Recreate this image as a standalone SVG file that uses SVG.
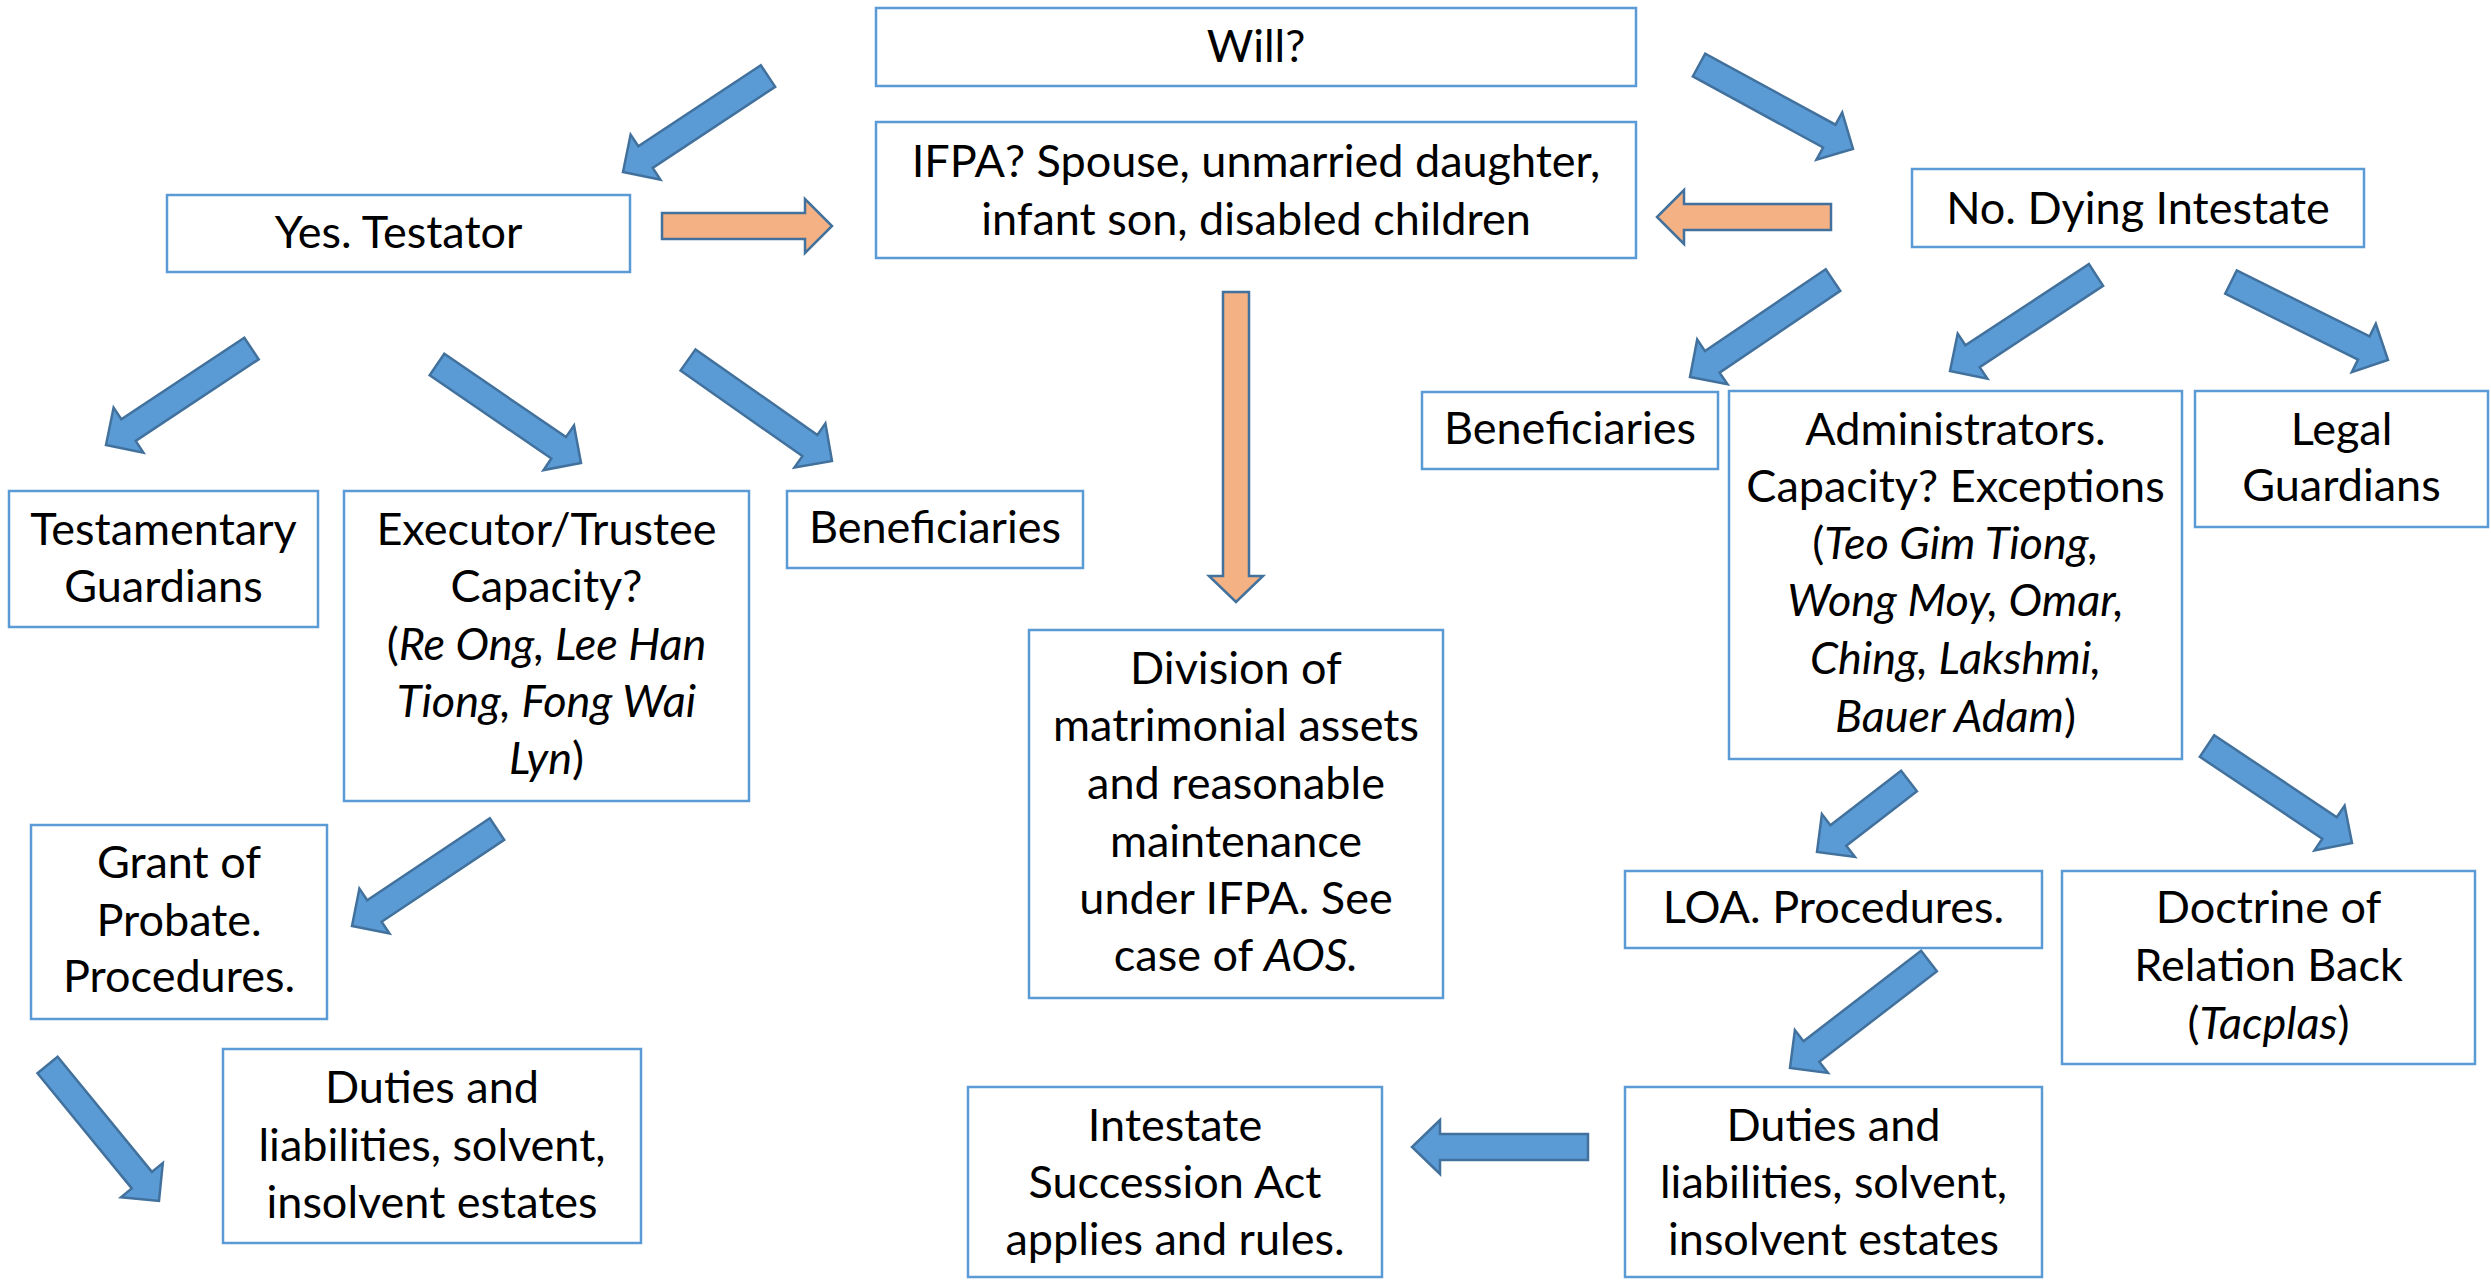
<svg xmlns="http://www.w3.org/2000/svg" width="2491" height="1281" viewBox="0 0 2491 1281">
<style>
.box{fill:#ffffff;stroke:#5B9BD5;stroke-width:2.5}
.arr{fill:#5B9BD5;stroke:#41719C;stroke-width:2.5;stroke-linejoin:miter}
.oarr{fill:#F4B183;stroke:#41719C;stroke-width:2.5;stroke-linejoin:miter}
text{font-family:Lato,"Open Sans","Liberation Sans",sans-serif;font-size:45px;text-anchor:middle;fill:#000000}
.i{font-style:italic}
</style>
<rect width="2491" height="1281" fill="#ffffff"/>
<g id="connectors">
<polygon class="arr" points="760.8,65.2 638.3,146.3 630.6,134.6 623,172 660.4,179.6 652.7,167.9 775.2,86.8"/>
<polygon class="arr" points="1692.8,76.4 1823.1,147.5 1816.4,159.8 1853,149 1842.2,112.4 1835.5,124.7 1705.2,53.6"/>
<polygon class="arr" points="244.3,337.7 121.3,419.3 113.6,407.6 106,445 143.4,452.6 135.7,440.9 258.7,359.3"/>
<polygon class="arr" points="429.7,375.2 551.4,458.5 543.5,470.1 581,463 574.0,425.5 566.0,437.1 444.3,353.8"/>
<polygon class="arr" points="680.5,370.6 802.4,456.1 794.4,467.6 832,461 825.4,423.4 817.4,434.9 695.5,349.4"/>
<polygon class="arr" points="1825.7,269.2 1705.0,351.1 1697.2,339.5 1690,377 1727.5,384.2 1719.6,372.6 1840.3,290.8"/>
<polygon class="arr" points="2088.9,264.1 1965.4,345.3 1957.7,333.6 1950,371 1987.4,378.7 1979.7,367.1 2103.1,285.9"/>
<polygon class="arr" points="2225.2,293.6 2358.0,359.6 2351.8,372.2 2388,360 2375.8,323.8 2369.6,336.4 2236.8,270.4"/>
<polygon class="arr" points="489.8,818.2 367.2,900.2 359.4,888.6 352,926 389.4,933.4 381.6,921.8 504.2,839.8"/>
<polygon class="arr" points="37.5,1073.2 131.8,1188.4 121.0,1197.2 159,1201 162.8,1163.0 151.9,1171.9 57.6,1056.8"/>
<polygon class="arr" points="1901.1,770.7 1830.4,825.2 1821.9,814.1 1817,852 1854.9,856.9 1846.3,845.8 1916.9,791.3"/>
<polygon class="arr" points="2199.8,756.8 2322.3,838.8 2314.5,850.4 2352,843 2344.6,805.6 2336.8,817.2 2214.2,735.2"/>
<polygon class="arr" points="1921.1,950.7 1803.5,1041.2 1794.9,1030.1 1790,1068 1827.9,1072.9 1819.3,1061.8 1936.9,971.3"/>
<polygon class="arr" points="1588,1134 1440,1134 1440,1120 1412,1147 1440,1174 1440,1160 1588,1160"/>
<polygon class="oarr" points="662,213 805,213 805,199 832,226 805,253 805,239 662,239"/>
<polygon class="oarr" points="1831,204 1684,204 1684,190 1657,217 1684,244 1684,230 1831,230"/>
<polygon class="oarr" points="1223,292 1249,292 1249,576 1263,576 1236,602 1209,576 1223,576"/>
</g>
<g id="will"><rect class="box" x="876" y="8" width="760" height="78"/><text x="1256" y="62">Will?</text></g>
<g id="ifpa"><rect class="box" x="876" y="122" width="760" height="136"/><text x="1256" y="177">IFPA? Spouse, unmarried daughter,</text><text x="1256" y="235">infant son, disabled children</text></g>
<g id="testator"><rect class="box" x="167" y="195" width="463" height="77"/><text x="398.5" y="248">Yes. Testator</text></g>
<g id="intestate"><rect class="box" x="1912" y="169" width="452" height="78"/><text x="2138" y="224">No. Dying Intestate</text></g>
<g id="testamentary-guardians"><rect class="box" x="9" y="491" width="309" height="136"/><text x="163.5" y="545">Testamentary</text><text x="163.5" y="602">Guardians</text></g>
<g id="executor"><rect class="box" x="344" y="491" width="405" height="310"/><text x="546.5" y="545">Executor/Trustee</text><text x="546.5" y="602">Capacity?</text><text x="546.5" y="660">(<tspan class="i">Re Ong, Lee Han</tspan></text><text x="546.5" y="717" class="i">Tiong, Fong Wai</text><text x="546.5" y="774"><tspan class="i">Lyn</tspan>)</text></g>
<g id="beneficiaries-left"><rect class="box" x="787" y="491" width="296" height="77"/><text x="935" y="543">Beneficiaries</text></g>
<g id="division"><rect class="box" x="1029" y="630" width="414" height="368"/><text x="1236" y="684">Division of</text><text x="1236" y="741">matrimonial assets</text><text x="1236" y="799">and reasonable</text><text x="1236" y="857">maintenance</text><text x="1236" y="914">under IFPA. See</text><text x="1236" y="971">case of <tspan class="i">AOS.</tspan></text></g>
<g id="grant-of-probate"><rect class="box" x="31" y="825" width="296" height="194"/><text x="179" y="878">Grant of</text><text x="179" y="936">Probate.</text><text x="179" y="992">Procedures.</text></g>
<g id="duties-left"><rect class="box" x="223" y="1049" width="418" height="194"/><text x="432" y="1103">Duties and</text><text x="432" y="1161">liabilities, solvent,</text><text x="432" y="1218">insolvent estates</text></g>
<g id="beneficiaries-right"><rect class="box" x="1422" y="392" width="296" height="77"/><text x="1570" y="444">Beneficiaries</text></g>
<g id="administrators"><rect class="box" x="1729" y="391" width="453" height="368"/><text x="1955.5" y="445">Administrators.</text><text x="1955.5" y="502">Capacity? Exceptions</text><text x="1955.5" y="559">(<tspan class="i">Teo Gim Tiong,</tspan></text><text x="1955.5" y="616" class="i">Wong Moy, Omar,</text><text x="1955.5" y="674" class="i">Ching, Lakshmi,</text><text x="1955.5" y="732"><tspan class="i">Bauer Adam</tspan>)</text></g>
<g id="legal-guardians"><rect class="box" x="2195" y="391" width="293" height="136"/><text x="2341.5" y="445">Legal</text><text x="2341.5" y="501">Guardians</text></g>
<g id="loa"><rect class="box" x="1625" y="871" width="417" height="77"/><text x="1833.5" y="923">LOA. Procedures.</text></g>
<g id="doctrine"><rect class="box" x="2062" y="871" width="413" height="193"/><text x="2268.5" y="923">Doctrine of</text><text x="2268.5" y="981">Relation Back</text><text x="2268.5" y="1039">(<tspan class="i">Tacplas</tspan>)</text></g>
<g id="duties-right"><rect class="box" x="1625" y="1087" width="417" height="190"/><text x="1833.5" y="1141">Duties and</text><text x="1833.5" y="1198">liabilities, solvent,</text><text x="1833.5" y="1255">insolvent estates</text></g>
<g id="intestate-succession"><rect class="box" x="968" y="1087" width="414" height="190"/><text x="1175" y="1141">Intestate</text><text x="1175" y="1198">Succession Act</text><text x="1175" y="1255">applies and rules.</text></g>
</svg>
